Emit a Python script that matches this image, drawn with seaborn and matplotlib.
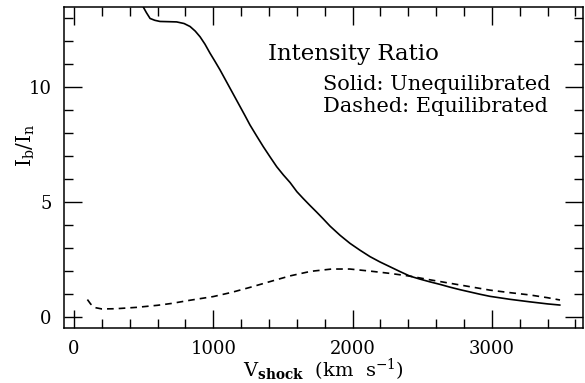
import numpy as np
import pandas as pd
import matplotlib
matplotlib.use("Agg")
import matplotlib.pyplot as plt
from matplotlib.ticker import MultipleLocator
import seaborn as sns

# Solid: unequilibrated
v_solid = [480, 497, 520, 546, 580, 617, 680, 737, 790, 833, 870, 905, 940,
           976, 1012, 1048, 1084, 1120, 1156, 1192, 1228, 1263, 1311, 1359,
           1407, 1455, 1503, 1551, 1600, 1646, 1694, 1742, 1790, 1838, 1910,
           1981, 2053, 2125, 2196, 2268, 2340, 2412, 2484, 2556, 2628, 2699,
           2771, 2843, 2915, 2986, 3130, 3273, 3400, 3489]
r_solid = [14.0, 13.5, 13.25, 13.0, 12.92, 12.87, 12.86, 12.85, 12.78, 12.65,
           12.45, 12.2, 11.88, 11.49, 11.13, 10.76, 10.36, 9.96, 9.56, 9.16,
           8.76, 8.36, 7.88, 7.41, 6.97, 6.54, 6.18, 5.85, 5.45, 5.15, 4.85,
           4.56, 4.26, 3.95, 3.55, 3.2, 2.9, 2.62, 2.39, 2.18, 1.97, 1.77,
           1.64, 1.52, 1.41, 1.29, 1.18, 1.08, 0.98, 0.89, 0.76, 0.65, 0.56,
           0.51]

# Dashed: equilibrated
v_dash = [96, 120, 150, 200, 300, 450, 600, 700, 833, 1000, 1130, 1263, 1400,
          1550, 1700, 1850, 1980, 2125, 2268, 2412, 2556, 2699, 2843, 2986,
          3130, 3273, 3400, 3489]
r_dash = [0.75, 0.55, 0.40, 0.34, 0.35, 0.41, 0.50, 0.58, 0.72, 0.88, 1.06,
          1.28, 1.52, 1.78, 1.98, 2.08, 2.08, 1.99, 1.89, 1.77, 1.61, 1.46,
          1.31, 1.16, 1.05, 0.95, 0.83, 0.73]

x_ticks = [0, 1000, 2000, 3000]
y_ticks = [0, 5, 10]

df_s = pd.DataFrame({"v": v_solid, "r": r_solid})
df_d = pd.DataFrame({"v": v_dash, "r": r_dash})

sns.set_theme(style="ticks")
plt.rcParams["font.family"] = ["DejaVu Serif"]
plt.rcParams["mathtext.fontset"] = "dejavuserif"

fig = plt.figure(figsize=(5.85, 3.83), dpi=100)
ax = fig.add_axes([64/585, 1 - 328/383, (583-64)/585, (328-7)/383])

sns.lineplot(data=df_s, x="v", y="r", ax=ax, color="black", lw=1.2,
             estimator=None, sort=False)
sns.lineplot(data=df_d, x="v", y="r", ax=ax, color="black", lw=1.2,
             estimator=None, sort=False, linestyle=(0, (4, 3)))

ax.set_xlim(-72, 3654)
ax.set_ylim(-0.49, 13.5)
ax.set_xticks(x_ticks)
ax.set_xticklabels([str(t) for t in x_ticks])
ax.set_yticks(y_ticks)
ax.set_yticklabels([str(t) for t in y_ticks])
ax.xaxis.set_minor_locator(MultipleLocator(200))
ax.yaxis.set_minor_locator(MultipleLocator(1))
ax.tick_params(which="both", direction="in", top=True, right=True,
               color="black", width=1, labelsize=13, labelcolor="black")
ax.tick_params(which="major", length=13, pad=9)
ax.tick_params(which="minor", length=6.5)
for s in ax.spines.values():
    s.set_color("black")
    s.set_linewidth(1.1)

ax.set_xlabel(r"$\mathrm{V}_{\mathbf{shock}}$  (km  s$^{-1}$)", fontsize=14,
              color="black")
ax.set_ylabel(r"$\mathrm{I_b/I_n}$", fontsize=14.5, color="black")
ax.yaxis.set_label_coords(-0.052, 0.57)
ax.xaxis.set_label_coords(0.5, -0.09)

ax.text(0.393, 0.835, "Intensity Ratio", transform=ax.transAxes,
        fontsize=16.5, color="black", va="baseline", ha="left")
ax.text(0.499, 0.741, "Solid: Unequilibrated", transform=ax.transAxes,
        fontsize=15, color="black", va="baseline", ha="left")
ax.text(0.499, 0.673, "Dashed: Equilibrated", transform=ax.transAxes,
        fontsize=15, color="black", va="baseline", ha="left")

fig.savefig("out.png", dpi=100)
